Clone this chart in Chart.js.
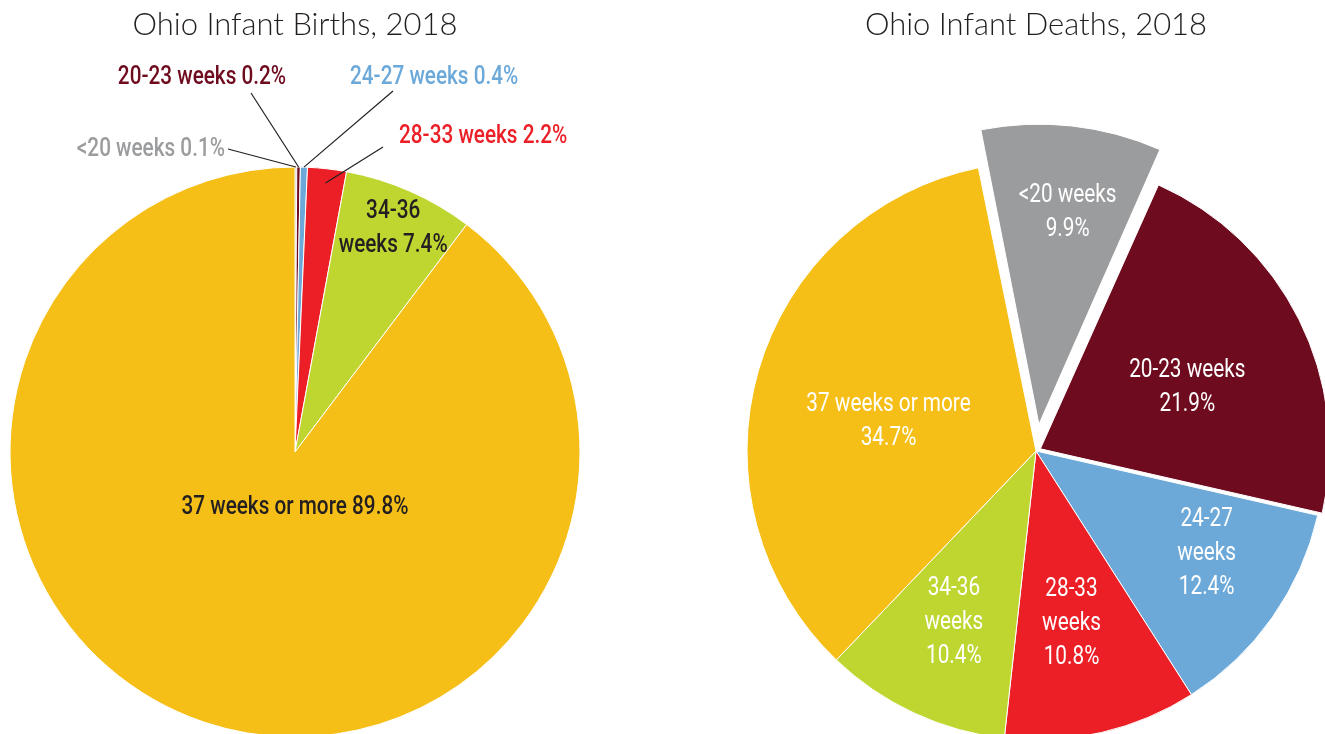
<!DOCTYPE html>
<html lang="en">
<head>
  <meta charset="UTF-8" />
  <title>Ohio Infant Births and Deaths, 2018</title>
  <script src="https://cdn.jsdelivr.net/npm/chart.js"></script>
  <style>
    html, body {
      margin: 0;
      padding: 0;
      background: #ffffff;
      overflow: hidden;
    }
    #page {
      position: relative;
      width: 1325px;
      height: 734px;
    }
    canvas {
      position: absolute;
      top: 0;
    }
    #births { left: 0; }
    #deaths { left: 662px; }
  </style>
</head>
<body>
<div id="page">
  <canvas id="births" width="662" height="734"></canvas>
  <canvas id="deaths" width="663" height="734"></canvas>
</div>

<script>
  // data
  const categories = ['<20 weeks', '20-23 weeks', '24-27 weeks', '28-33 weeks', '34-36 weeks', '37 weeks or more'];
  const birthShares = [0.1, 0.2, 0.4, 2.2, 7.4, 89.8];
  const deathShares = [9.9, 21.9, 12.4, 10.8, 10.4, 34.7];

  const sliceColors = ['#9b9c9e', '#6e0b1e', '#6ca9d9', '#ec1f27', '#bfd631', '#f6bf17'];
  const darkText = '#231f20';
  const labelFont = "Roboto, 'DejaVu Sans Condensed', sans-serif";
  const labelSqueeze = 0.83;   // the labels use a condensed face
  const titleFont = "Lato, 'Open Sans', sans-serif";

  // how far each slice of the deaths pie is pulled out, in px
  const deathPull = [38, 5, 0, 0, 0, 0];

  // words per line for each label
  const birthBreaks = [[3], [3], [3], [3], [1, 2], [5]];
  const deathBreaks = [[2, 1], [2, 1], [1, 1, 1], [1, 1, 1], [1, 1, 1], [4, 1]];

  const labelLines = (cat, val, breaks) => {
    const words = (cat + ' ' + val.toFixed(1) + '%').split(' ');
    const out = [];
    let k = 0;
    breaks.forEach(n => { out.push(words.slice(k, k + n).join(' ')); k += n; });
    return out;
  };

  // Chart.js v4 moves an arc by offset/4 * (2 - sin(circumference)), undo that
  const arcOffset = (px, share, total) => {
    const c = Math.min(Math.PI, share / total * 2 * Math.PI);
    return px * 4 / (2 - Math.sin(c));
  };

  const sliceLabels = (id, labels) => ({
    id,
    afterDatasetsDraw(chart) {
      const ctx = chart.ctx;
      const arcs = chart.getDatasetMeta(0).data;
      labels.forEach((lab, i) => {
        const arc = arcs[i];
        const mid = (arc.startAngle + arc.endAngle) / 2;
        const pull = lab.pull || 0;
        const cx = arc.x + Math.cos(mid) * pull;
        const cy = arc.y + Math.sin(mid) * pull;
        let tx, ty;
        ctx.save();
        if (lab.at) {
          tx = cx + lab.at[0];
          ty = cy + lab.at[1];
          const ex = cx + Math.cos(mid) * arc.outerRadius * lab.lineTo;
          const ey = cy + Math.sin(mid) * arc.outerRadius * lab.lineTo;
          ctx.strokeStyle = darkText;
          ctx.lineWidth = 1.2;
          ctx.beginPath();
          ctx.moveTo(cx + lab.from[0], cy + lab.from[1]);
          ctx.lineTo(ex, ey);
          ctx.stroke();
        } else {
          const a = mid + (lab.shift || 0) * Math.PI / 180;
          tx = cx + Math.cos(a) * arc.outerRadius * lab.r;
          ty = cy + Math.sin(a) * arc.outerRadius * lab.r;
        }
        ctx.font = lab.weight + ' ' + lab.size + 'px ' + labelFont;
        ctx.fillStyle = lab.color;
        ctx.textAlign = lab.align || 'center';
        ctx.textBaseline = 'middle';
        ctx.translate(tx, ty);
        ctx.scale(labelSqueeze, 1);
        const n = lab.lines.length;
        lab.lines.forEach((ln, k) => ctx.fillText(ln, 0, (k - (n - 1) / 2) * lab.lineH));
        ctx.restore();
      });
    }
  });

  const titleOpts = (text, cy, height, size) => ({
    display: true,
    text,
    color: darkText,
    font: { family: titleFont, size, weight: 300, lineHeight: 1.2 },
    padding: { top: 6, bottom: (2 * cy - height) - 6 - size * 1.2 }
  });

  // ---- births ----
  const birthTotal = birthShares.reduce((a, b) => a + b, 0);
  const birthLabelStyle = [
    { color: '#9b9c9e', align: 'right', at: [-70, -302], from: [-67, -303], lineTo: 1.0 },
    { color: '#6e0b1e', align: 'center', at: [-93, -374], from: [-44, -359], lineTo: 1.0 },
    { color: '#6ca9d9', align: 'left', at: [55, -374], from: [98, -361], lineTo: 1.0 },
    { color: '#ec1f27', align: 'left', at: [104, -315], from: [88, -305], lineTo: 0.95 },
    { color: darkText, r: 0.856, shift: 0 },
    { color: darkText, r: 0.196, shift: -18.5 }
  ];
  const birthLabels = birthLabelStyle.map((s, i) => Object.assign({
    lines: labelLines(categories[i], birthShares[i], birthBreaks[i]),
    size: 25, lineH: 34, weight: 500
  }, s));

  new Chart(document.getElementById('births'), {
    type: 'pie',
    data: {
      labels: categories,
      datasets: [{
        data: birthShares,
        backgroundColor: sliceColors,
        borderColor: '#ffffff',
        borderWidth: 1,
        radius: 285,
        rotation: 0
      }]
    },
    options: {
      responsive: false,
      animation: false,
      layout: { padding: { left: 0, right: 72, top: 0, bottom: 0 } },
      plugins: {
        legend: { display: false },
        tooltip: { enabled: false },
        title: titleOpts('Ohio Infant Births, 2018', 452, 734, 31)
      }
    },
    plugins: [sliceLabels('birthLabels', birthLabels)]
  });

  // ---- deaths ----
  const deathTotal = deathShares.reduce((a, b) => a + b, 0);
  const deathLabelStyle = [
    { r: 0.70, shift: 1.5 },
    { r: 0.55, shift: 4 },
    { r: 0.69, shift: -4 },
    { r: 0.61, shift: 1.5 },
    { r: 0.66, shift: 0.5 },
    { r: 0.52, shift: -5 }
  ];
  const deathLabels = deathLabelStyle.map((s, i) => Object.assign({
    lines: labelLines(categories[i], deathShares[i], deathBreaks[i]),
    size: 25, lineH: 34, weight: 'normal', color: '#ffffff', pull: deathPull[i]
  }, s));

  new Chart(document.getElementById('deaths'), {
    type: 'pie',
    data: {
      labels: categories,
      datasets: [{
        data: deathShares,
        backgroundColor: sliceColors,
        borderColor: '#ffffff',
        borderWidth: 1,
        radius: 289,
        rotation: -11.5,
        offset: deathShares.map((v, i) => arcOffset(deathPull[i], v, deathTotal))
      }]
    },
    options: {
      responsive: false,
      animation: false,
      layout: { padding: { left: 85, right: 0, top: 0, bottom: 0 } },
      plugins: {
        legend: { display: false },
        tooltip: { enabled: false },
        title: titleOpts('Ohio Infant Deaths, 2018', 451, 734, 31)
      }
    },
    plugins: [sliceLabels('deathLabels', deathLabels)]
  });
</script>
</body>
</html>
